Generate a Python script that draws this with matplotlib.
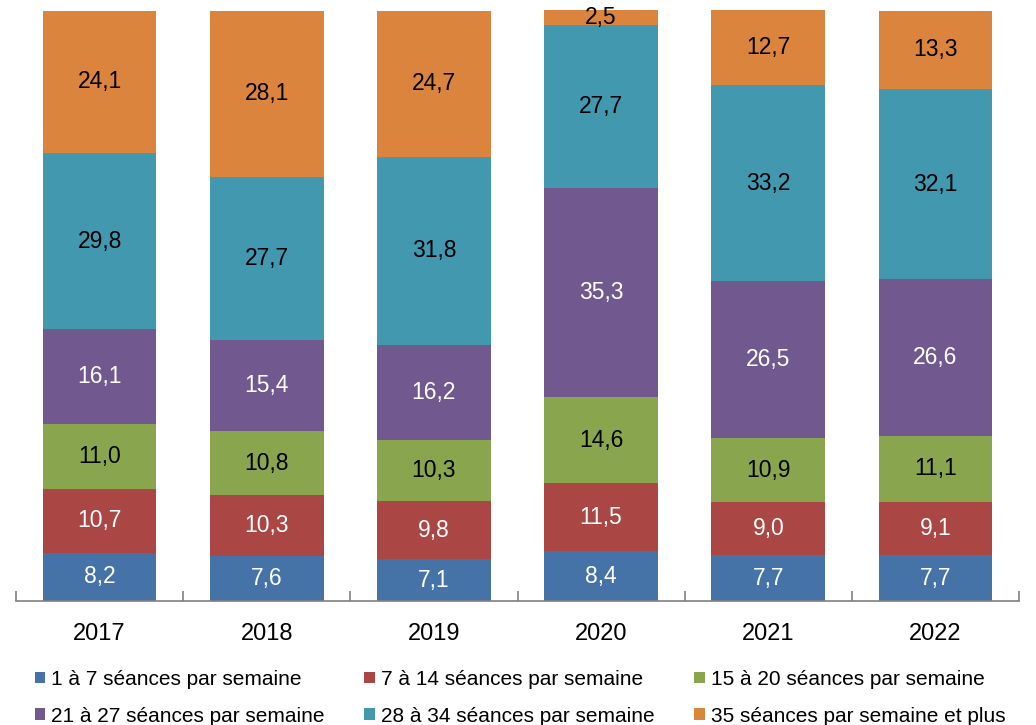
import matplotlib.pyplot as plt
import numpy as np

plt.rcParams['font.family'] = ['Liberation Sans', 'DejaVu Sans']

years = ["2017", "2018", "2019", "2020", "2021", "2022"]
labels = ["1 à 7 séances par semaine", "7 à 14 séances par semaine",
          "15 à 20 séances par semaine", "21 à 27 séances par semaine",
          "28 à 34 séances par semaine", "35 séances par semaine et plus"]
s1_7 = [8.2, 7.6, 7.1, 8.4, 7.7, 7.7]
s7_14 = [10.7, 10.3, 9.8, 11.5, 9.0, 9.1]
s15_20 = [11.0, 10.8, 10.3, 14.6, 10.9, 11.1]
s21_27 = [16.1, 15.4, 16.2, 35.3, 26.5, 26.6]
s28_34 = [29.8, 27.7, 31.8, 27.7, 33.2, 32.1]
s35 = [24.1, 28.1, 24.7, 2.5, 12.7, 13.3]

series = [s1_7, s7_14, s15_20, s21_27, s28_34, s35]
colors = ["#4572A7", "#AA4643", "#89A54E", "#71588F", "#4198AF", "#DB843D"]
txt_colors = ["white", "white", "black", "white", "black", "black"]

fig = plt.figure(figsize=(10.36, 7.25), dpi=100)
ax = fig.add_axes([16/1036, 124/725, 1003/1036, 591/725])

x = np.arange(len(years))
bottom = np.zeros(len(years))
handles = []
for vals, c, tc, lab in zip(series, colors, txt_colors, labels):
    vals = np.array(vals)
    b = ax.bar(x, vals, 0.68, bottom=bottom, color=c, label=lab)
    handles.append(b)
    for xi, v, bt in zip(x, vals, bottom):
        ax.text(xi, bt + v / 2, f"{v:.1f}".replace(".", ","), ha="center",
                va="center", fontsize=16.5, color=tc)
    bottom += vals

ax.set_xlim(-0.5, len(years) - 0.5)
ax.set_ylim(0, 100)
ax.set_yticks([])
for s in ["top", "right", "left"]:
    ax.spines[s].set_visible(False)
ax.spines["bottom"].set_color("#808080")
ax.spines["bottom"].set_linewidth(1.2)
ax.set_xticks(x)
ax.set_xticklabels(years, fontsize=17)
ax.tick_params(axis="x", length=0, pad=16)
ax.set_xticks(np.arange(-0.5, len(years)), minor=True)
ax.tick_params(axis="x", which="minor", direction="in", length=7,
               color="#808080", width=1.2)

order = [0, 3, 1, 4, 2, 5]
fig.legend([handles[i] for i in order], [labels[i] for i in order],
           ncol=3, loc="lower left", bbox_to_anchor=(20/1036, -0.021),
           frameon=False, fontsize=15, handlelength=0.5, handleheight=0.5,
           handletextpad=0.3, columnspacing=1.9, labelspacing=0.85,
           borderpad=0.2)

fig.savefig("out.png", dpi=100)
